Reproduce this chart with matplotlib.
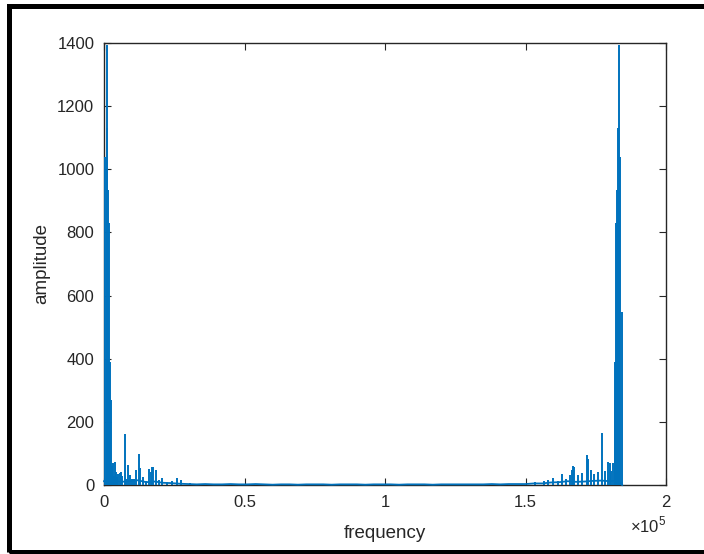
import matplotlib.pyplot as plt
from matplotlib.patches import Rectangle

plt.rcParams['font.family'] = ['Liberation Sans', 'DejaVu Sans']
plt.rcParams['mathtext.fontset'] = 'custom'
plt.rcParams['mathtext.rm'] = 'Liberation Sans'

# low-frequency cluster (Hz, amplitude)
low_f = [320, 890, 1070, 1420, 1780, 2140, 2490, 2850, 3200, 3560, 3915, 4270,
         4630, 4980, 5700, 6050, 6400, 7470, 7830, 8540, 9250, 9970, 10680,
         11390, 12460, 12810, 13880, 14950, 16010, 16730, 17080, 17440, 18510,
         19570, 20640, 22420, 24200, 25980, 27400, 30600]
low_a = [1040, 1395, 1130, 935, 830, 390, 270, 60, 70, 30, 73, 40,
         25, 35, 38, 41, 30, 163, 20, 63, 32, 18, 20,
         48, 98, 54, 25, 12, 51, 40, 57, 57, 48,
         16, 22, 10, 13, 22, 16, 6]

# high-frequency cluster (mirror image of the spectrum)
high_f = [153400, 156600, 158020, 159800, 161580, 163000, 164420, 165850,
          166560, 166910, 167270, 168700, 170120, 171900, 172250, 173320,
          174390, 175810, 177230, 178300, 179370, 180080, 180440, 181150,
          181680, 181860, 182220, 182580, 183040, 183290, 183640, 184350]
high_a = [8, 13, 16, 22, 12, 35, 20, 32,
          48, 60, 57, 32, 38, 95, 82, 48,
          35, 41, 165, 45, 73, 70, 45, 70,
          270, 390, 830, 935, 1130, 1395, 1040, 548]

# near-zero noise floor across the band
floor_f = [0, 3000, 6000, 9000, 12000, 15000, 18000, 21000, 24000, 27000,
           30000, 33000, 36000, 39000, 42000, 45000, 48000, 51000, 54000,
           57000, 60000, 63000, 66000, 69000, 72000, 75000, 78000, 81000,
           84000, 87000, 90000, 93000, 96000, 99000, 102000, 105000, 108000,
           111000, 114000, 117000, 120000, 123000, 126000, 129000, 132000,
           135000, 138000, 141000, 144000, 147000, 150000, 153000, 156000,
           159000, 162000, 165000, 168000, 171000, 174000, 177000, 180000,
           183000, 184400]
floor_a = [12, 14, 10, 12, 15, 9, 11, 7, 6, 4,
           3, 2, 3, 2, 2, 3, 2, 2, 3,
           2, 1, 2, 2, 1, 2, 2, 2, 1,
           2, 2, 2, 1, 2, 2, 2, 1, 2,
           2, 2, 1, 2, 2, 2, 2, 2,
           2, 3, 2, 3, 3, 3, 5, 5,
           8, 9, 12, 10, 11, 13, 14, 12,
           15, 0]

blue = '#0072BD'
dark = '#262626'

fig = plt.figure(figsize=(7.04, 5.54), dpi=100)
ax = fig.add_axes([104 / 704, 69 / 554, 562 / 704, 442 / 554])

ax.plot(floor_f, floor_a, color=blue, lw=1.3, clip_on=False, zorder=3)
ax.vlines(low_f, 0, low_a, color=blue, lw=1.4, zorder=3)
ax.vlines(high_f, 0, high_a, color=blue, lw=1.4, zorder=3)

ax.set_xlim(0, 2e5)
ax.set_ylim(0, 1400)
ax.set_xticks([0, 0.5e5, 1e5, 1.5e5, 2e5])
ax.set_xticklabels(['0', '0.5', '1', '1.5', '2'])
ax.set_yticks(range(0, 1401, 200))
ax.tick_params(direction='in', length=5, width=0.8, colors=dark,
               labelsize=12, top=True, right=True, pad=7)
for s in ax.spines.values():
    s.set_color(dark)
    s.set_linewidth(1.0)

ax.set_xlabel('frequency', fontsize=13.5, color=dark, labelpad=11)
ax.set_ylabel('amplitude', fontsize=13.5, color=dark, labelpad=5)
ax.text(1.0, -0.068, r'×10$^{5}$', transform=ax.transAxes, ha='right',
        va='top', fontsize=12, color=dark)

# black frame around the figure
fig.patches.append(Rectangle((8.5 / 704, 2.5 / 554), 720 / 704, 546 / 554,
                             transform=fig.transFigure, fill=False,
                             edgecolor='black', lw=3.6, zorder=10))

fig.savefig('out.png', dpi=100)
